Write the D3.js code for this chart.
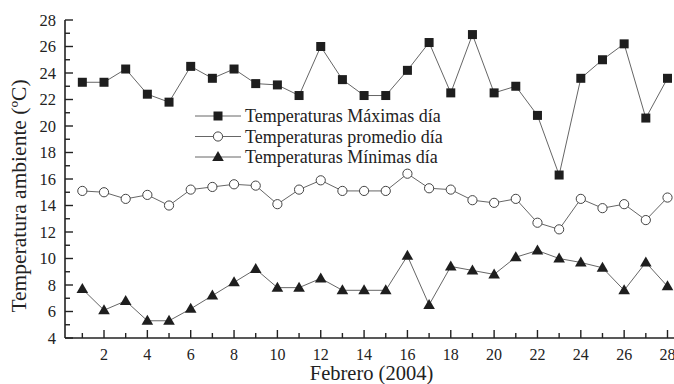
<!DOCTYPE html>
<html><head><meta charset="utf-8">
<script src="https://cdn.jsdelivr.net/npm/d3@7"></script>
<style>body{margin:0;background:#fff}svg{display:block}text{font-family:"Liberation Serif","Times New Roman",serif;fill:#222}</style>
</head><body><div id="chart"></div>
<script>
const days = d3.range(1, 29);
const tempMax = [23.3,23.3,24.3,22.4,21.8,24.5,23.6,24.3,23.2,23.1,22.3,26.0,23.5,22.3,22.3,24.2,26.3,22.5,26.9,22.5,23.0,20.8,16.3,23.6,25.0,26.2,20.6,23.6];
const tempAvg = [15.1,15.0,14.5,14.8,14.0,15.2,15.4,15.6,15.5,14.1,15.2,15.9,15.1,15.1,15.1,16.4,15.3,15.2,14.4,14.2,14.5,12.7,12.2,14.5,13.8,14.1,12.9,14.6];
const tempMin = [7.7,6.1,6.8,5.3,5.3,6.2,7.2,8.2,9.2,7.8,7.8,8.5,7.6,7.6,7.6,10.2,6.5,9.4,9.1,8.8,10.1,10.6,10.0,9.7,9.3,7.6,9.7,7.9];
const legendLabels = ["Temperaturas Máximas día","Temperaturas promedio día","Temperaturas Mínimas día"];
const xTicks = d3.range(2, 29, 2);
const yTicks = d3.range(4, 29, 2);
const xLabel = "Febrero (2004)";
const yLabel = "Temperatura ambiente (ºC)";

const W = 674, H = 384;
const svg = d3.select("#chart").append("svg").attr("width", W).attr("height", H);
const x = d3.scaleLinear().domain([0.2, 28.3]).range([65, 674]);
const y = d3.scaleLinear().domain([4, 28]).range([338, 20]);
const axisColor = "#222";

// Y axis
const gy = svg.append("g").attr("transform", "translate(65,0)");
gy.append("line").attr("y1", y(28)).attr("y2", y(4)).attr("stroke", axisColor).attr("stroke-width", 1.6);
d3.range(4, 29, 1).forEach(v => {
  const major = v % 2 === 0;
  gy.append("line").attr("x1", 0).attr("x2", major ? 8 : 5).attr("y1", y(v)).attr("y2", y(v)).attr("stroke", axisColor).attr("stroke-width", 1.4);
});
gy.selectAll("text.tl").data(yTicks).join("text").attr("class","tl")
  .attr("x", -9).attr("y", d => y(d)).attr("dy", "0.35em").attr("text-anchor", "end")
  .attr("font-size", 16.5).text(d => d);

// X axis
const gx = svg.append("g").attr("transform", "translate(0,338)");
gx.append("line").attr("x1", 65).attr("x2", 674).attr("stroke", axisColor).attr("stroke-width", 1.6);
days.forEach(v => {
  const major = v % 2 === 0;
  gx.append("line").attr("x1", x(v)).attr("x2", x(v)).attr("y1", 0).attr("y2", major ? -8 : -5).attr("stroke", axisColor).attr("stroke-width", 1.4);
});
gx.selectAll("text.tl").data(xTicks).join("text").attr("class","tl")
  .attr("x", d => x(d)).attr("y", 21.5).attr("text-anchor", "middle")
  .attr("font-size", 16).text(d => d);

svg.append("text").attr("x", 371.5).attr("y", 380).attr("text-anchor", "middle").attr("font-size", 20.5).text(xLabel);
svg.append("text").attr("transform", "translate(26,196) rotate(-90)").attr("text-anchor", "middle").attr("font-size", 21.5).text(yLabel);

const line = d3.line().x((d, i) => x(days[i])).y(d => y(d));
const lineColor = "#666";
const markFill = "#1e1e1e";

function square(g, cx, cy) {
  g.append("rect").attr("x", cx - 4.5).attr("y", cy - 4.5).attr("width", 9).attr("height", 9).attr("fill", markFill);
}
function circle(g, cx, cy) {
  g.append("circle").attr("cx", cx).attr("cy", cy).attr("r", 4.6).attr("fill", "#fff").attr("stroke", "#444").attr("stroke-width", 1);
}
function tri(g, cx, cy) {
  g.append("path").attr("d", `M${cx},${cy-6}L${cx+5.8},${cy+4}L${cx-5.8},${cy+4}Z`).attr("fill", markFill);
}
const series = [[tempMax, square], [tempAvg, circle], [tempMin, tri]];
series.forEach(([data, mk]) => {
  svg.append("path").datum(data).attr("d", line).attr("fill", "none").attr("stroke", lineColor).attr("stroke-width", 1);
  const g = svg.append("g");
  data.forEach((v, i) => mk(g, x(days[i]), y(v)));
});

// Legend
const lg = svg.append("g");
legendLabels.forEach((t, i) => {
  const cy = 116 + i * 20.5;
  lg.append("line").attr("x1", 195).attr("x2", 241).attr("y1", cy).attr("y2", cy).attr("stroke", lineColor).attr("stroke-width", 1);
  series[i][1](lg, 218, cy);
  lg.append("text").attr("x", 245).attr("y", cy).attr("dy", "0.35em").attr("font-size", 18).text(t);
});
</script></body></html>
